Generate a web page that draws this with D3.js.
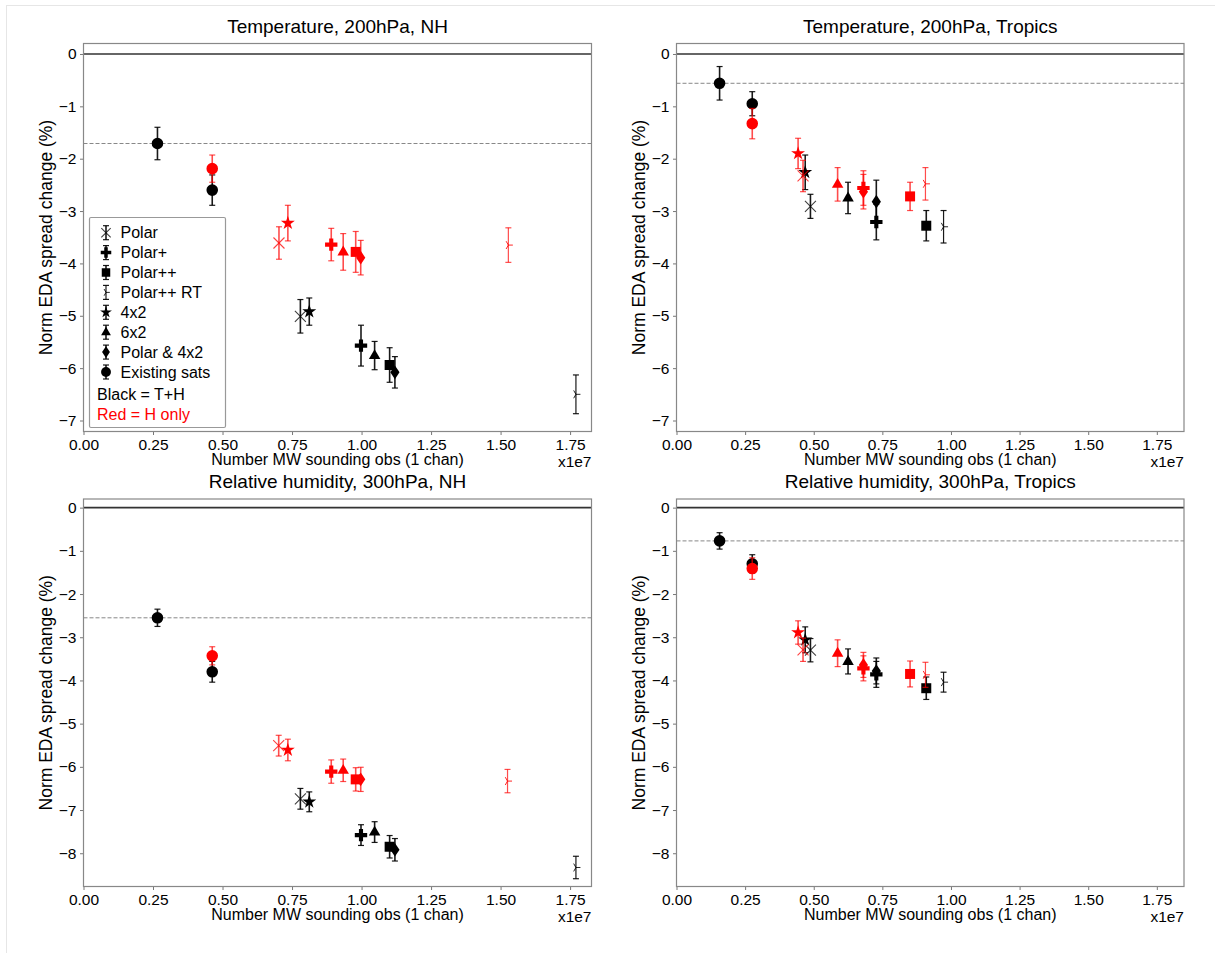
<!DOCTYPE html>
<html>
<head>
<meta charset="utf-8">
<script src="https://cdn.jsdelivr.net/npm/d3@7"></script>
<style>
  html, body { margin: 0; padding: 0; background: #fff; }
  svg { display: block; }
  text { font-family: "Liberation Sans", Arial, sans-serif; }
</style>
</head>
<body>
<svg id="chart" width="1215" height="953"></svg>
<script>
// Experiment configurations, in legend order
const configs = ["Polar", "Polar+", "Polar++", "Polar++ RT", "4x2", "6x2", "Polar & 4x2", "Existing sats"];

// Rows: [configuration, obs count (x1e7), norm EDA spread change (%), error]
const tempNH_black = [
  ["Existing sats", 0.266, -1.71, 0.31],
  ["Existing sats", 0.463, -2.60, 0.29],
  ["Polar", 0.780, -5.01, 0.32],
  ["4x2", 0.812, -4.92, 0.26],
  ["Polar+", 0.998, -5.57, 0.39],
  ["6x2", 1.047, -5.76, 0.27],
  ["Polar++", 1.101, -5.94, 0.33],
  ["Polar & 4x2", 1.120, -6.08, 0.30],
  ["Polar++ RT", 1.771, -6.50, 0.37]
];
const tempNH_red = [
  ["Existing sats", 0.463, -2.19, 0.26],
  ["Polar", 0.703, -3.61, 0.31],
  ["4x2", 0.735, -3.23, 0.34],
  ["Polar+", 0.891, -3.64, 0.31],
  ["6x2", 0.934, -3.78, 0.35],
  ["Polar++", 0.979, -3.78, 0.39],
  ["Polar & 4x2", 0.997, -3.89, 0.33],
  ["Polar++ RT", 1.528, -3.65, 0.33]
];

const tempTR_black = [
  ["Existing sats", 0.157, -0.56, 0.32],
  ["Existing sats", 0.276, -0.95, 0.23],
  ["4x2", 0.469, -2.26, 0.33],
  ["Polar", 0.488, -2.91, 0.23],
  ["6x2", 0.625, -2.75, 0.30],
  ["Polar & 4x2", 0.728, -2.82, 0.41],
  ["Polar+", 0.728, -3.21, 0.34],
  ["Polar++", 0.910, -3.28, 0.29],
  ["Polar++ RT", 0.973, -3.30, 0.31]
];
const tempTR_red = [
  ["Existing sats", 0.276, -1.33, 0.29],
  ["4x2", 0.443, -1.90, 0.29],
  ["Polar", 0.461, -2.33, 0.30],
  ["6x2", 0.587, -2.49, 0.32],
  ["Polar+", 0.681, -2.56, 0.33],
  ["Polar & 4x2", 0.681, -2.63, 0.33],
  ["Polar++", 0.851, -2.72, 0.27],
  ["Polar++ RT", 0.907, -2.48, 0.31]
];

const rhNH_black = [
  ["Existing sats", 0.266, -2.55, 0.20],
  ["Existing sats", 0.463, -3.80, 0.24],
  ["Polar", 0.780, -6.74, 0.24],
  ["4x2", 0.812, -6.81, 0.23],
  ["Polar+", 0.998, -7.58, 0.24],
  ["6x2", 1.047, -7.51, 0.24],
  ["Polar++", 1.101, -7.85, 0.26],
  ["Polar & 4x2", 1.120, -7.92, 0.26],
  ["Polar++ RT", 1.771, -8.33, 0.26]
];
const rhNH_red = [
  ["Existing sats", 0.463, -3.43, 0.21],
  ["Polar", 0.702, -5.51, 0.24],
  ["4x2", 0.735, -5.61, 0.25],
  ["Polar+", 0.891, -6.11, 0.27],
  ["6x2", 0.934, -6.08, 0.26],
  ["Polar++", 0.979, -6.29, 0.27],
  ["Polar & 4x2", 0.997, -6.29, 0.28],
  ["Polar++ RT", 1.525, -6.33, 0.27]
];

const rhTR_black = [
  ["Existing sats", 0.157, -0.77, 0.19],
  ["Existing sats", 0.276, -1.30, 0.21],
  ["4x2", 0.469, -3.06, 0.30],
  ["Polar", 0.488, -3.30, 0.27],
  ["6x2", 0.625, -3.56, 0.29],
  ["Polar & 4x2", 0.728, -3.78, 0.30],
  ["Polar+", 0.728, -3.86, 0.30],
  ["Polar++", 0.910, -4.18, 0.26],
  ["Polar++ RT", 0.973, -4.04, 0.23]
];
const rhTR_red = [
  ["Existing sats", 0.276, -1.41, 0.25],
  ["4x2", 0.443, -2.89, 0.27],
  ["Polar", 0.461, -3.29, 0.27],
  ["6x2", 0.587, -3.37, 0.31],
  ["Polar & 4x2", 0.681, -3.64, 0.29],
  ["Polar+", 0.681, -3.72, 0.29],
  ["Polar++", 0.851, -3.85, 0.30],
  ["Polar++ RT", 0.907, -3.87, 0.29]
];

// Panel titles and tick values
const titles = ["Temperature, 200hPa, NH", "Temperature, 200hPa, Tropics",
                "Relative humidity, 300hPa, NH", "Relative humidity, 300hPa, Tropics"];
const xTicks = [0, 0.25, 0.5, 0.75, 1.0, 1.25, 1.5, 1.75];
const yTicksTemp = [0, -1, -2, -3, -4, -5, -6, -7];
const yTicksRH = [0, -1, -2, -3, -4, -5, -6, -7, -8];

const xLabel = "Number MW sounding obs (1 chan)";
const yLabel = "Norm EDA spread change (%)";
const xOffsetLabel = "x1e7";
const legendNotes = [["Black = T+H", "#000"], ["Red = H only", "#ff0000"]];

// ---------------------------------------------------------------------------
const svg = d3.select("#chart");
const RED = "#ff0000";

// faint frame along the top and left of the figure
svg.append("line").attr("x1", 6).attr("x2", 1215).attr("y1", 5.5).attr("y2", 5.5)
  .attr("stroke", "#e6e6e6").attr("stroke-width", 1);
svg.append("line").attr("x1", 6.5).attr("x2", 6.5).attr("y1", 5).attr("y2", 953)
  .attr("stroke", "#e6e6e6").attr("stroke-width", 1);

const panels = [
  { title: titles[0], black: tempNH_black, red: tempNH_red, yTicks: yTicksTemp,
    left: 83.5, right: 591.5, top: 43.5, bottom: 431.5, xMax: 1.827, yDom: [-7.21, 0.2], legend: true },
  { title: titles[1], black: tempTR_black, red: tempTR_red, yTicks: yTicksTemp,
    left: 676.5, right: 1184, top: 43.5, bottom: 431.5, xMax: 1.849, yDom: [-7.21, 0.2] },
  { title: titles[2], black: rhNH_black, red: rhNH_red, yTicks: yTicksRH,
    left: 83.5, right: 591.5, top: 499, bottom: 886.5, xMax: 1.827, yDom: [-8.77, 0.2] },
  { title: titles[3], black: rhTR_black, red: rhTR_red, yTicks: yTicksRH,
    left: 676.5, right: 1184, top: 499, bottom: 886.5, xMax: 1.849, yDom: [-8.77, 0.2] }
];

// Marker shapes, centred on the origin
function markerPath(cfg, s) {
  const p = d3.path();
  switch (cfg) {
    case "Existing sats":
      return d3.symbol(d3.symbolCircle, 105 * s * s)();
    case "Polar++":
      return d3.symbol(d3.symbolSquare, 100 * s * s)();
    case "6x2": {
      const r = 6.4 * s;
      p.moveTo(0, -r); p.lineTo(r * 0.9, r * 0.55); p.lineTo(-r * 0.9, r * 0.55); p.closePath();
      return p.toString();
    }
    case "4x2":
      return d3.symbol(d3.symbolStar, 60 * s * s)();
    case "Polar+":
      return d3.symbol(d3.symbolCross, 85 * s * s)();
    case "Polar & 4x2": {
      const h = 6.8 * s, w = 4.6 * s;
      p.moveTo(0, -h); p.lineTo(w, 0); p.lineTo(0, h); p.lineTo(-w, 0); p.closePath();
      return p.toString();
    }
    case "Polar": {
      const r = 5.5 * s;
      p.moveTo(-r, -r); p.lineTo(r, r); p.moveTo(-r, r); p.lineTo(r, -r);
      return p.toString();
    }
    case "Polar++ RT": {
      const r = 4.5 * s;
      p.moveTo(0, 0); p.lineTo(r, 0);
      p.moveTo(0, 0); p.lineTo(-r * 0.5, -r * 0.87);
      p.moveTo(0, 0); p.lineTo(-r * 0.5, r * 0.87);
      return p.toString();
    }
  }
  return "";
}
const lineMarkers = new Set(["Polar", "Polar++ RT"]);

function drawMarker(g, cfg, color, s) {
  const path = g.append("path").attr("d", markerPath(cfg, s));
  if (lineMarkers.has(cfg)) {
    path.attr("fill", "none").attr("stroke", color)
      .attr("stroke-width", cfg === "Polar" ? 1.1 : 1)
      .attr("stroke-opacity", cfg === "Polar" ? 0.75 : 0.85);
  } else {
    path.attr("fill", color);
  }
  return path;
}

function drawErrorBar(g, x, y0, y1, color, thin) {
  const op = color === RED ? 0.7 : 0.9;
  const sw = thin ? 1.2 : 1.6;
  g.append("line").attr("x1", x).attr("x2", x).attr("y1", y0).attr("y2", y1)
    .attr("stroke", color).attr("stroke-width", sw).attr("stroke-opacity", op);
  [y0, y1].forEach(yy => {
    g.append("line").attr("x1", x - 3).attr("x2", x + 3).attr("y1", yy).attr("y2", yy)
      .attr("stroke", color).attr("stroke-width", 1.2).attr("stroke-opacity", op);
  });
}

panels.forEach(pn => {
  const x = d3.scaleLinear().domain([0, pn.xMax]).range([pn.left, pn.right]);
  const y = d3.scaleLinear().domain(pn.yDom).range([pn.bottom, pn.top]);
  const g = svg.append("g");
  const cx = (pn.left + pn.right) / 2, cy = (pn.top + pn.bottom) / 2;

  // axes
  const xAxis = d3.axisBottom(x).tickValues(xTicks).tickFormat(d3.format(".2f"))
    .tickSize(3.5).tickPadding(3.5);
  const yAxis = d3.axisLeft(y).tickValues(pn.yTicks)
    .tickFormat(d => d === 0 ? "0" : "\u2212" + Math.abs(d)).tickSize(3.5).tickPadding(3.5);

  const gx = g.append("g").attr("transform", `translate(0,${pn.bottom})`).call(xAxis);
  const gy = g.append("g").attr("transform", `translate(${pn.left},0)`).call(yAxis);
  [gx, gy].forEach(a => {
    a.select(".domain").remove();
    a.selectAll(".tick line").attr("stroke", "#777").attr("stroke-width", 1);
    a.selectAll(".tick text").attr("fill", "#000").style("font-size", "15.5px")
      .style("font-family", "'Liberation Sans', Arial, sans-serif");
  });

  // reference lines
  g.append("line").attr("x1", pn.left).attr("x2", pn.right).attr("y1", y(0)).attr("y2", y(0))
    .attr("stroke", "#333").attr("stroke-width", 1.6);
  const base = pn.black.filter(r => r[0] === "Existing sats").sort((a, b) => a[1] - b[1])[0];
  g.append("line").attr("x1", pn.left).attr("x2", pn.right).attr("y1", y(base[2])).attr("y2", y(base[2]))
    .attr("stroke", "#888").attr("stroke-width", 1).attr("stroke-dasharray", "4,2");

  // frame
  g.append("rect").attr("x", pn.left).attr("y", pn.top)
    .attr("width", pn.right - pn.left).attr("height", pn.bottom - pn.top)
    .attr("fill", "none").attr("stroke", "#888").attr("stroke-width", 1.2);

  // points with error bars: black (T+H) then red (H only)
  const pts = g.append("g");
  [[pn.black, "#000"], [pn.red, RED]].forEach(([rows, color]) => {
    rows.forEach(([cfg, xv, yv, e]) => {
      drawErrorBar(pts, x(xv), y(yv + e), y(yv - e), color, cfg === "Polar++ RT");
    });
    rows.forEach(([cfg, xv, yv]) => {
      drawMarker(pts, cfg, color, 1).attr("transform", `translate(${x(xv)},${y(yv)})`);
    });
  });

  // texts
  g.append("text").attr("x", cx).attr("y", pn.top - 11).attr("text-anchor", "middle")
    .style("font-size", "19px").text(pn.title);
  g.append("text").attr("x", cx).attr("y", pn.bottom + 33).attr("text-anchor", "middle")
    .style("font-size", "16px").text(xLabel);
  g.append("text").attr("x", pn.right).attr("y", pn.bottom + 35).attr("text-anchor", "end")
    .style("font-size", "15.5px").text(xOffsetLabel);
  g.append("text").attr("transform", `translate(${pn.left - 32},${cy}) rotate(-90)`)
    .attr("text-anchor", "middle").style("font-size", "17.5px").text(yLabel);

  if (pn.legend) {
    const lx = 89.5, ly = 217.5, lw = 136, lh = 210;
    const lg = g.append("g");
    lg.append("rect").attr("x", lx).attr("y", ly).attr("width", lw).attr("height", lh)
      .attr("fill", "#fff").attr("stroke", "#999").attr("stroke-width", 1.2).attr("rx", 1.5);
    configs.forEach((cfg, i) => {
      const ry = 232.7 + i * 19.9;
      drawErrorBar(lg, 106, ry - 7, ry + 7, "#000", cfg === "Polar++ RT");
      drawMarker(lg, cfg, "#000", 0.85).attr("transform", `translate(106,${ry})`);
      lg.append("text").attr("x", 120.5).attr("y", ry).attr("dy", "0.35em")
        .style("font-size", "16px").text(cfg);
    });
    legendNotes.forEach(([t, c], i) => {
      lg.append("text").attr("x", 97).attr("y", 394 + i * 20).attr("dy", "0.35em")
        .style("font-size", "16px").attr("fill", c).text(t);
    });
  }
});
</script>
</body>
</html>
